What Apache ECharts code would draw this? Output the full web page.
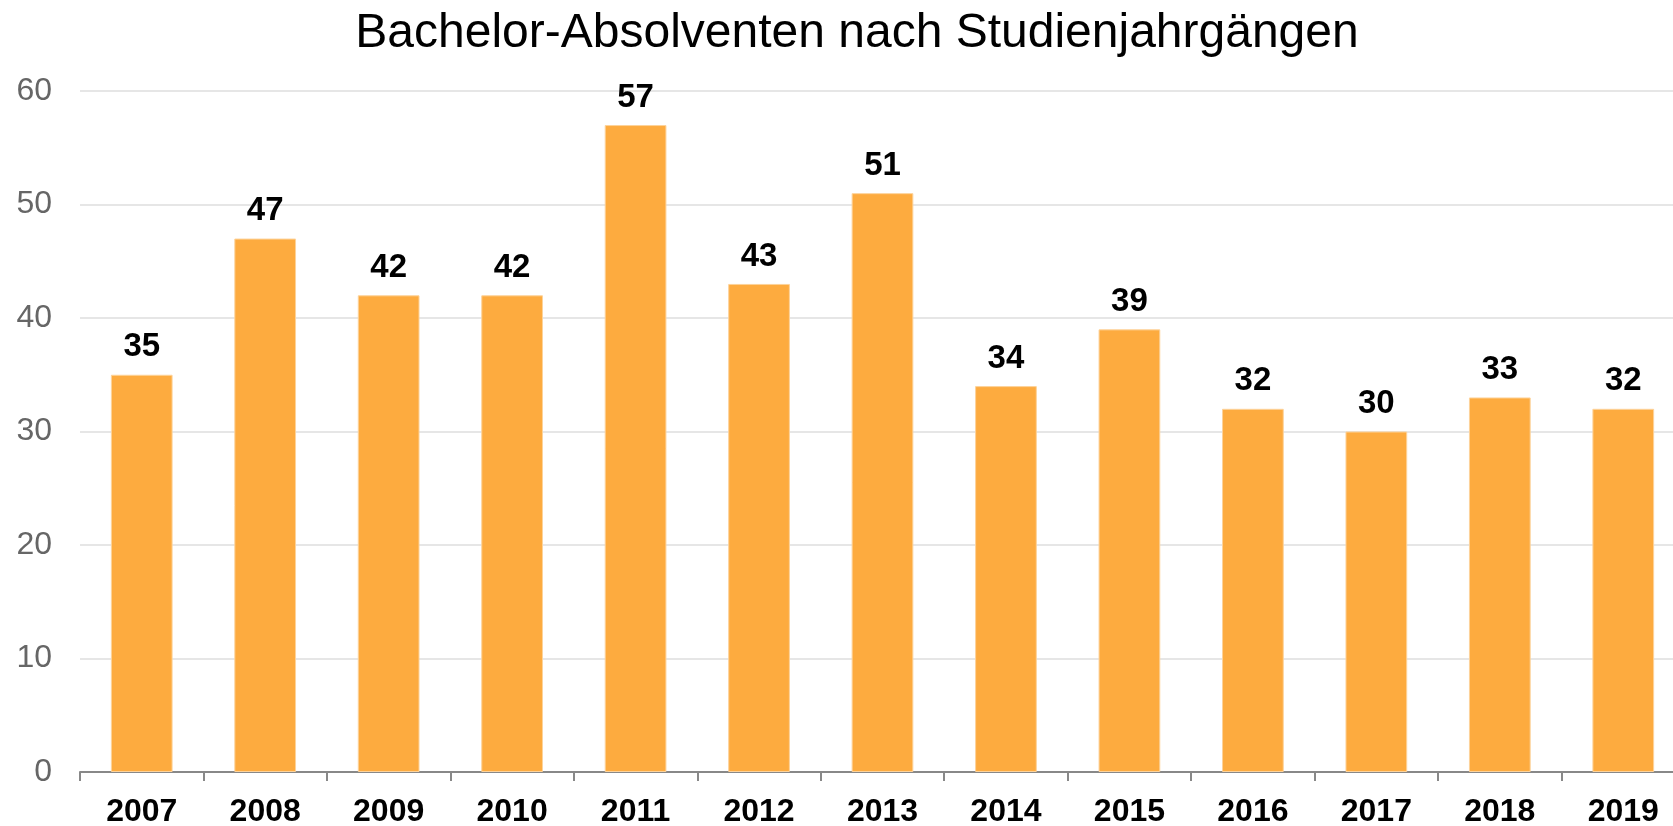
<!DOCTYPE html>
<html>
<head>
<meta charset="utf-8">
<title>Bachelor-Absolventen</title>
<script src="https://cdn.jsdelivr.net/npm/echarts@6/dist/echarts.min.js"></script>
<style>
html, body { margin: 0; padding: 0; background: #fff; }
#chart { width: 1673px; height: 826px; }
</style>
</head>
<body>
<div id="chart"></div>
<script>
var years = ['2007', '2008', '2009', '2010', '2011', '2012', '2013', '2014', '2015', '2016', '2017', '2018', '2019'];
var absolventen = [35, 47, 42, 42, 57, 43, 51, 34, 39, 32, 30, 33, 32];
var yTicks = [0, 10, 20, 30, 40, 50, 60];

var chart = echarts.init(document.getElementById('chart'));
var option = {
    animation: false,
    title: {
        text: 'Bachelor-Absolventen nach Studienjahrgängen',
        left: 852,
        top: 5,
        textAlign: 'center',
        textStyle: {
            fontFamily: 'Liberation Sans, Arial, sans-serif',
            fontSize: 48,
            fontWeight: 'normal',
            color: '#000'
        }
    },
    grid: {
        left: 80,
        right: -12,
        top: 91,
        bottom: 54,
        outerBoundsMode: 'none'
    },
    xAxis: {
        type: 'category',
        data: years,
        axisLine: { lineStyle: { color: '#888', width: 2 } },
        axisTick: { show: true, length: 9, lineStyle: { color: '#888', width: 2 } },
        axisLabel: {
            margin: 24,
            fontFamily: 'Liberation Sans, Arial, sans-serif',
            fontSize: 32,
            fontWeight: 'bold',
            color: '#000'
        }
    },
    yAxis: {
        type: 'value',
        min: yTicks[0],
        max: yTicks[yTicks.length - 1],
        interval: 10,
        axisLine: { show: false },
        axisTick: { show: false },
        axisLabel: {
            margin: 28,
            fontFamily: 'Liberation Sans, Arial, sans-serif',
            fontSize: 32,
            color: '#666'
        },
        splitLine: { lineStyle: { color: '#e6e6e6', width: 2 } }
    },
    series: [
        {
            type: 'bar',
            data: absolventen,
            barWidth: '50%',
            itemStyle: {
                color: '#fdab3f',
                borderColor: '#fdd39b',
                borderWidth: 1
            },
            label: {
                show: true,
                position: 'top',
                distance: 11,
                fontFamily: 'Liberation Sans, Arial, sans-serif',
                fontSize: 33,
                fontWeight: 'bold',
                color: '#000'
            }
        }
    ]
};
chart.setOption(option);
window.addEventListener('resize', function () {
    chart.resize();
});
</script>
</body>
</html>
